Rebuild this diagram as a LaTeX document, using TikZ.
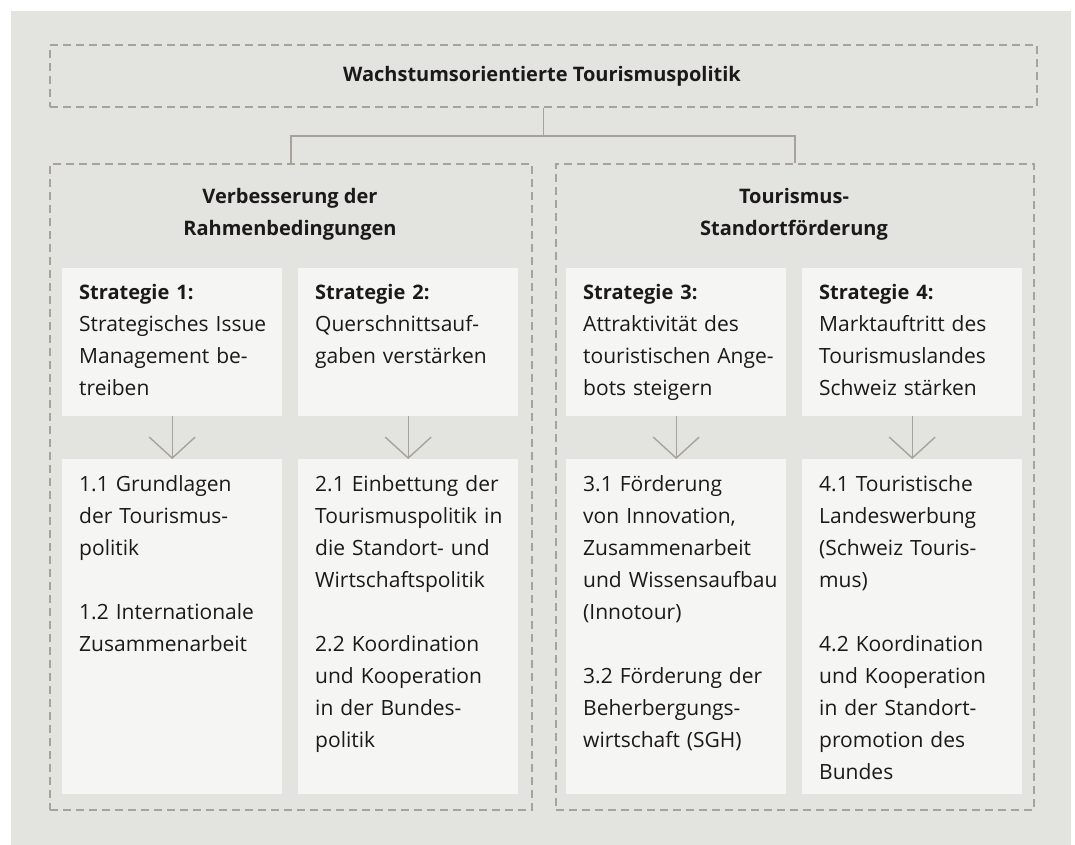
\documentclass[tikz,border=0pt]{standalone}
\usepackage{fontspec}
\setmainfont{Open Sans}
\usepackage{tikz}
\usetikzlibrary{arrows.meta}
\definecolor{hgrund}{rgb}{0.890,0.894,0.875}
\definecolor{kasten}{rgb}{0.961,0.961,0.957}
\definecolor{strich}{rgb}{0.655,0.639,0.608}
\definecolor{schrift}{rgb}{0.110,0.100,0.100}

\begin{document}
\begin{tikzpicture}[line cap=butt,line join=miter,x=1pt,y=-1pt,
  rahmen/.style={draw=strich,line width=1.8pt,dash pattern=on 8pt off 5pt,anchor=north west,inner sep=0pt},
  feld/.style={fill=kasten,anchor=north west,inner sep=0pt,minimum width=220pt},
  inhalt/.style={anchor=base west,inner sep=0pt,text width=205pt,align=left,text=schrift,font=\fontsize{21}{32}\selectfont},
  titel/.style={anchor=base,inner sep=0pt,align=center,text=schrift,font=\fontsize{20}{32}\selectfont\bfseries},
  verbinder/.style={draw=strich,line width=1.6pt},
  pfeil/.style={draw=strich,line width=1.4pt,-{Straight Barb[length=21pt,width=46pt,line width=1.4pt]}}]
\useasboundingbox (0,0) rectangle (1075,845);
\fill[hgrund] (11,11) rectangle (1071,845);
% dashed frames
\node[rahmen,minimum width=987pt,minimum height=62pt] (politik) at (49,44) {};
\node[rahmen,minimum width=482pt,minimum height=646pt] (rahmenbed) at (49,163) {};
\node[rahmen,minimum width=478pt,minimum height=646pt] (standort) at (555,163) {};
\node[titel] (politikt) at (542,82) {Wachstumsorientierte Tourismuspolitik};
\node[titel] (rahmenbedt) at (290,235) {Verbesserung der\\Rahmenbedingungen};
\node[titel] (standortt) at (794,235) {Tourismus-\\Standortförderung};
\draw[verbinder] (politik.south) -- ++(0,28) -| (rahmenbed.north);
\draw[verbinder] (politik.south) -- ++(0,28) -| (standort.north);
% strategies
\node[feld,minimum height=148pt] (s1) at (62,268) {};
\node[feld,minimum height=148pt] (s2) at (298,268) {};
\node[feld,minimum height=148pt] (s3) at (566,268) {};
\node[feld,minimum height=148pt] (s4) at (802,268) {};
\node[inhalt] (s1t) at ([shift={(17,31)}]s1.north west) {\textbf{\fontsize{20}{32}\selectfont Strategie 1:}\\Strategisches Issue\\Management be-\\treiben};
\node[inhalt] (s2t) at ([shift={(17,31)}]s2.north west) {\textbf{\fontsize{20}{32}\selectfont Strategie 2:}\\Querschnittsauf-\\gaben verstärken};
\node[inhalt] (s3t) at ([shift={(17,31)}]s3.north west) {\textbf{\fontsize{20}{32}\selectfont Strategie 3:}\\Attraktivität des\\touristischen Ange-\\bots steigern};
\node[inhalt] (s4t) at ([shift={(17,31)}]s4.north west) {\textbf{\fontsize{20}{32}\selectfont Strategie 4:}\\Marktauftritt des\\Tourismuslandes\\Schweiz stärken};
% measures
\node[feld,minimum height=335pt] (m1) at (62,459) {};
\node[feld,minimum height=335pt] (m2) at (298,459) {};
\node[feld,minimum height=335pt] (m3) at (566,459) {};
\node[feld,minimum height=335pt] (m4) at (802,459) {};
\node[inhalt] (m1t) at ([shift={(17,32)}]m1.north west) {1.1 Grundlagen\\der Tourismus-\\politik\\[32pt]1.2 Internationale\\Zusammenarbeit};
\node[inhalt] (m2t) at ([shift={(17,32)}]m2.north west) {2.1 Einbettung der\\Tourismuspolitik in\\die Standort- und\\Wirtschaftspolitik\\[32pt]2.2 Koordination\\und Kooperation\\in der Bundes-\\politik};
\node[inhalt] (m3t) at ([shift={(17,32)}]m3.north west) {3.1 Förderung\\von Innovation,\\Zusammenarbeit\\und Wissensaufbau\\(Innotour)\\[32pt]3.2 Förderung der\\Beherbergungs-\\wirtschaft (SGH)};
\node[inhalt] (m4t) at ([shift={(17,32)}]m4.north west) {4.1 Touristische\\Landeswerbung\\(Schweiz Touris-\\mus)\\[32pt]4.2 Koordination\\und Kooperation\\in der Standort-\\promotion des\\Bundes};
\foreach \i in {1,...,4}
  \draw[pfeil] (s\i.south) -- (m\i.north);
\end{tikzpicture}
\end{document}
